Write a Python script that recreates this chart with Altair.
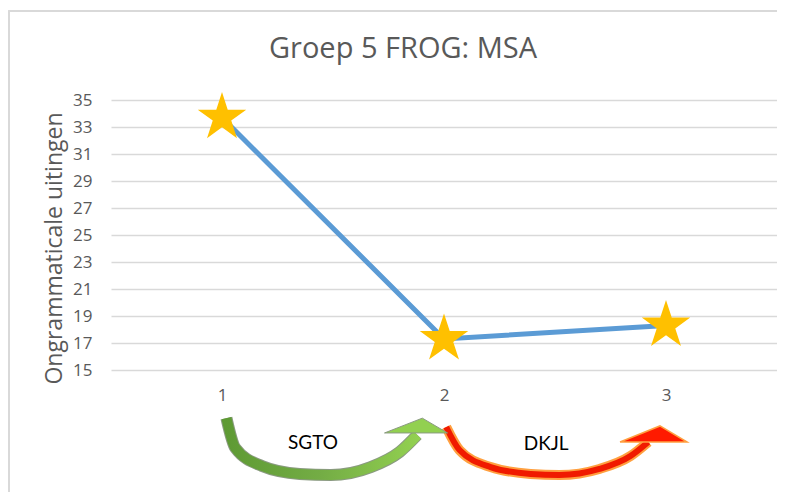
import altair as alt
import pandas as pd

# ---- data ----
meetmoment = [1, 2, 3]
waarden = [33.7, 17.3, 18.3]

y_ticks = [15, 17, 19, 21, 23, 25, 27, 29, 31, 33, 35]
titel = ["Groep 5 FROG: MSA"]

# decorative arrows (in data units of the chart)
groen_x = [1.02, 1.06, 1.18, 1.35, 1.49, 1.67, 1.80, 1.88]
groen_y = [11.44, 9.22, 7.89, 7.30, 7.22, 7.81, 8.93, 10.19]
rood_x = [2.01, 2.07, 2.21, 2.39, 2.52, 2.70, 2.84, 2.92]
rood_y = [10.78, 9.07, 7.81, 7.30, 7.22, 7.67, 8.63, 9.67]
kop_x = [1.874, 2.944]
kop_y = [10.85, 10.26]
labels_tekst = ["SGTO", "DKJL"]
labels_x = [1.41, 2.46]
labels_y = [9.6, 9.5]

df = pd.DataFrame({"t": meetmoment, "v": waarden})
df_g = pd.DataFrame({"t": groen_x, "v": groen_y})
df_r = pd.DataFrame({"t": rood_x, "v": rood_y})
df_kg = pd.DataFrame({"t": kop_x[:1], "v": kop_y[:1]})
df_kr = pd.DataFrame({"t": kop_x[1:], "v": kop_y[1:]})
df_lab = pd.DataFrame({"t": labels_x, "v": labels_y, "s": labels_tekst})
df_titel = pd.DataFrame({"s": titel})

FONT = "Open Sans"
GREY = "#595959"
STAR = ("M0,-1L0.2245,-0.309L0.951,-0.309L0.363,0.118L0.588,0.809L0,0.382"
        "L-0.588,0.809L-0.363,0.118L-0.951,-0.309L-0.2245,-0.309Z")

xs = alt.Scale(domain=[0.5, 3.5], nice=False, zero=False)
ys = alt.Scale(domain=[15, 35], nice=False, zero=False)

x_axis = alt.Axis(values=meetmoment, grid=False, domain=False, ticks=False, labelPadding=17,
                  labelFontSize=17, labelColor=GREY, labelFont=FONT, title=None, format="d")
y_axis = alt.Axis(values=y_ticks, grid=True, gridColor="#d9d9d9", gridWidth=1.5, domain=False,
                  ticks=False, labelPadding=19, labelFontSize=17, labelColor=GREY,
                  labelFont=FONT, labelOverlap=False, title="Ongrammaticale uitingen",
                  titleFont=FONT, titleFontSize=23, titleColor=GREY, titleFontWeight="normal",
                  titleX=-50, titleY=148, titleAngle=270, titleAlign="center",
                  titleBaseline="alphabetic")

X = alt.X("t:Q", scale=xs, axis=x_axis)
Y = alt.Y("v:Q", scale=ys, axis=y_axis)

border = alt.Chart(df).mark_rect(fillOpacity=0, stroke="#d9d9d9", strokeWidth=1.5).encode(
    x=alt.value(-102), x2=alt.value(720), y=alt.value(-89), y2=alt.value(520)
)

titel_mark = alt.Chart(df_titel).mark_text(font=FONT, fontSize=29, color=GREY,
                                           baseline="alphabetic", align="center").encode(
    text="s:N", x=alt.value(292), y=alt.value(-42))

lijn = alt.Chart(df).mark_line(color="#5B9BD5", strokeWidth=5).encode(x=X, y=Y)
sterren = alt.Chart(df).mark_point(shape=STAR, filled=True, color="#FFC000", opacity=1,
                                   size=2600).encode(x=X, y=Y)

groen_rand = alt.Chart(df_g).mark_line(color="#8a9a80", strokeWidth=12, interpolate="monotone",
                                       strokeCap="butt").encode(x=X, y=Y)
groen = alt.Chart(df_g).mark_line(
    strokeWidth=10, interpolate="monotone", strokeCap="butt",
    stroke=alt.LinearGradient(gradient="linear", x1=0, x2=1, y1=0, y2=0,
                              stops=[alt.GradientStop(color="#5e9a34", offset=0),
                                     alt.GradientStop(color="#74ad45", offset=0.5),
                                     alt.GradientStop(color="#92d050", offset=1)])
).encode(x=X, y=Y)
groen_kop = alt.Chart(df_kg).mark_point(
    shape="M-1,0.22L0.2,-0.25L1,0.22Z", size=3969, filled=True, fill="#92d050",
    stroke="#8a9a80", strokeWidth=1, opacity=1
).encode(x=X, y=Y)

rood_rand = alt.Chart(df_r).mark_line(color="#ffa040", strokeWidth=10, interpolate="monotone",
                                      strokeCap="butt").encode(x=X, y=Y)
rood = alt.Chart(df_r).mark_line(color="#f01a00", strokeWidth=6, interpolate="monotone",
                                 strokeCap="butt").encode(x=X, y=Y)
rood_kop = alt.Chart(df_kr).mark_point(
    shape="M-1,0.24L0.19,-0.24L1,0.24Z", size=4489, filled=True, fill="#ff1a00",
    stroke="#ffa040", strokeWidth=1.5, opacity=1
).encode(x=X, y=Y)

teksten = alt.Chart(df_lab).mark_text(font="Lato", fontSize=19, color="black",
                                      baseline="middle", align="center").encode(
    x=X, y=Y, text="s:N")

chart = alt.layer(
    border, titel_mark, lijn, sterren, rood_rand, rood, rood_kop, groen_rand, groen, groen_kop,
    teksten
).properties(
    width=666, height=270,
    autosize=alt.AutoSizeParams(type="none"),
    padding={"left": 103, "top": 92, "right": 0, "bottom": 122},
).configure_view(stroke=None)

chart.save("out.html", embed_options={"renderer": "svg", "actions": False})
